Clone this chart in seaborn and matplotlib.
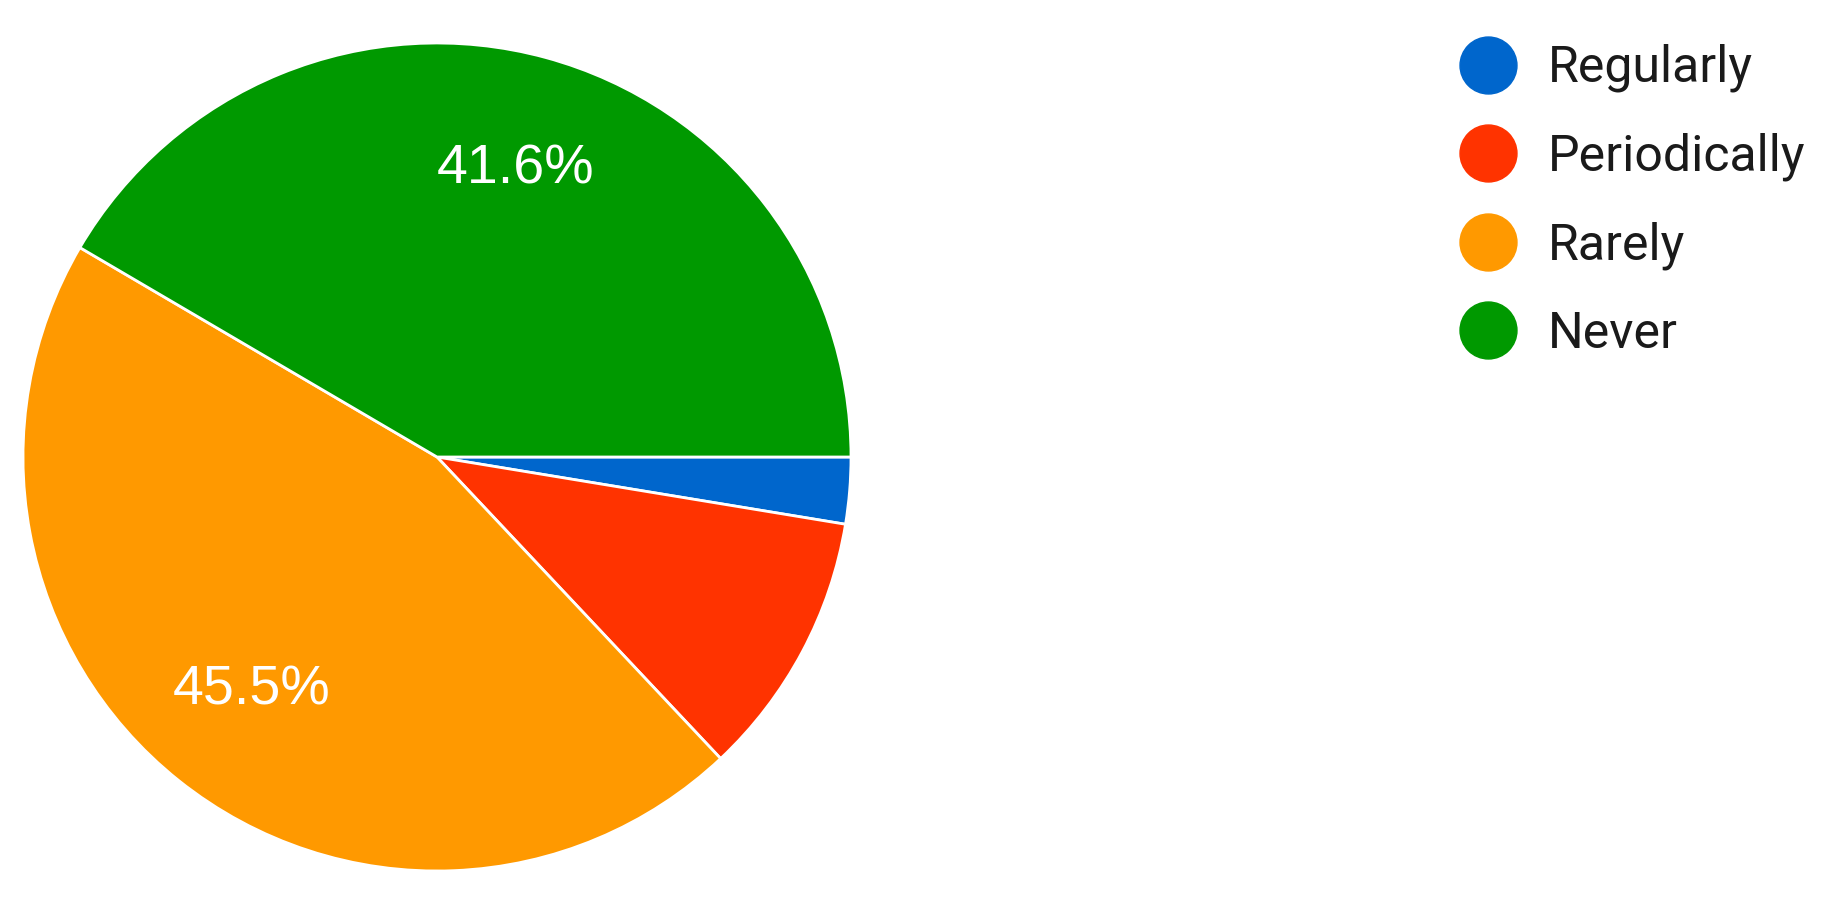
import numpy as np
import matplotlib
matplotlib.use("Agg")
from matplotlib import pyplot as plt
from matplotlib.lines import Line2D
import seaborn as sns

categories = ["Regularly", "Periodically", "Rarely", "Never"]
counts = [2, 8, 35, 32]
colors = ["#0066cc", "#ff3300", "#ff9900", "#009900"]

sns.set_theme(style="white")
plt.rcParams['font.family'] = ['Roboto', 'DejaVu Sans']

fig = plt.figure(figsize=(18.27, 9.09), dpi=100)
ax = fig.add_axes([23 / 1827, 38 / 909, 828 / 1827, 828 / 909])

def pct_label(p):
    return f"{p:.1f}%" if p > 20 else ""

wedges, texts, autotexts = ax.pie(
    counts, colors=colors, startangle=0, counterclock=False, radius=1,
    autopct=pct_label, pctdistance=0.72,
    wedgeprops={"edgecolor": "white", "linewidth": 2},
    textprops={"color": "white", "fontsize": 40, "family": ["Liberation Sans", "DejaVu Sans"]})
ax.set_xlim(-1, 1)
ax.set_ylim(-1, 1)
ax.set_aspect("equal")
ax.axis("off")

handles = [Line2D([], [], marker="o", ls="", markersize=41, markerfacecolor=c,
                  markeredgecolor=c) for c in colors]
leg = fig.legend(handles, categories, loc="upper left", bbox_to_anchor=(1458 / 1827, 1 - 44 / 909),
                 frameon=False, fontsize=36, handletextpad=0.6, labelspacing=0.80,
                 handlelength=1.2, borderaxespad=0, borderpad=0)
for t in leg.get_texts():
    t.set_color("#1a1a1a")

fig.savefig("out.png", dpi=100, facecolor="white")
